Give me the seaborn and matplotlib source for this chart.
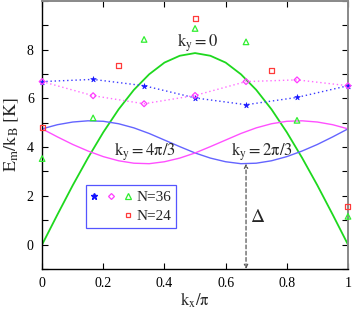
import numpy as np
import pandas as pd
import matplotlib
matplotlib.use("Agg")
import matplotlib.pyplot as plt
import seaborn as sns
from matplotlib.legend_handler import HandlerTuple
from matplotlib.lines import Line2D
from matplotlib.ticker import MultipleLocator

# ---- data ----
kx_curve = [0.0, 0.05, 0.1, 0.15, 0.2, 0.25, 0.3, 0.35, 0.4, 0.45, 0.5,
            0.55, 0.6, 0.65, 0.7, 0.75, 0.8, 0.85, 0.9, 0.95, 1.0]
E_ky0 = [0.0, 1.23, 2.43, 3.56, 4.61, 5.55, 6.35, 6.99, 7.47, 7.75, 7.86,
         7.75, 7.47, 6.99, 6.35, 5.55, 4.61, 3.56, 2.43, 1.23, 0.0]
E_ky4 = [4.75, 4.92, 5.03, 5.08, 5.06, 4.96, 4.79, 4.56, 4.29, 4.02, 3.76,
         3.55, 3.40, 3.32, 3.34, 3.44, 3.61, 3.84, 4.11, 4.42, 4.75]
E_ky2 = [4.75, 4.42, 4.11, 3.84, 3.61, 3.44, 3.34, 3.32, 3.40, 3.55, 3.76,
         4.02, 4.29, 4.56, 4.79, 4.96, 5.06, 5.08, 5.03, 4.92, 4.75]

kx_36 = [0.0, 1/6, 1/3, 0.5, 2/3, 5/6, 1.0]
E36_star = [6.69, 6.78, 6.52, 6.02, 5.74, 6.04, 6.52]
E36_diam = [6.69, 6.11, 5.78, 6.12, 6.69, 6.76, 6.52]
E36_tri = [3.53, 5.20, 8.42, 8.87, 8.32, 5.10, 1.16]

kx_24 = [0.0, 0.25, 0.5, 0.75, 1.0]
E24_sq = [4.79, 7.34, 9.27, 7.13, 1.57]

gap_kx = 2/3
gap_E = 3.32

xticks = [0, 0.2, 0.4, 0.6, 0.8, 1]
xticklabels = ["0", "0.2", "0.4", "0.6", "0.8", "1"]
yticks = [0, 2, 4, 6, 8]

# ---- style ----
sns.set_style("ticks")
plt.rcParams['font.family'] = ['Liberation Serif', 'DejaVu Serif']
plt.rcParams['mathtext.fontset'] = 'stix'

c_green = '#1ed81e'
c_blue_line = '#6464ff'
c_pink_line = '#ff50ff'
c_star = '#1414ff'
c_diam = '#ff3cff'
c_tri = '#30ee30'
c_sq = '#ff3a3a'

fig = plt.figure(figsize=(3.54, 3.12), dpi=100)
ax = fig.add_axes([0.119, 0.138, 0.864, 0.859])

curves = pd.DataFrame({'kx': kx_curve, 'g': E_ky0, 'b': E_ky4, 'p': E_ky2})
sns.lineplot(data=curves, x='kx', y='g', ax=ax, color=c_green, lw=1.3, sort=False)
sns.lineplot(data=curves, x='kx', y='b', ax=ax, color=c_blue_line, lw=1.0, sort=False)
sns.lineplot(data=curves, x='kx', y='p', ax=ax, color=c_pink_line, lw=1.0, sort=False)

d36 = pd.DataFrame({'kx': kx_36, 's': E36_star, 'd': E36_diam, 't': E36_tri})
sns.lineplot(data=d36, x='kx', y='s', ax=ax, color='#3a3aff', lw=1.0,
             linestyle=(0, (1, 2)), sort=False)
sns.lineplot(data=d36, x='kx', y='d', ax=ax, color='#ff6cff', lw=1.0,
             linestyle=(0, (1, 2)), sort=False)
sns.scatterplot(data=d36, x='kx', y='s', ax=ax, marker='*', s=18,
                color=c_star, edgecolor=c_star, linewidth=0.4, zorder=5,
                clip_on=False)
sns.scatterplot(data=d36, x='kx', y='d', ax=ax, marker='D', s=9,
                facecolor='none', edgecolor=c_diam, linewidth=0.9, zorder=5,
                clip_on=False)
sns.scatterplot(data=d36, x='kx', y='t', ax=ax, marker='^', s=16,
                facecolor='none', edgecolor=c_tri, linewidth=0.9, zorder=5,
                clip_on=False)
d24 = pd.DataFrame({'kx': kx_24, 'q': E24_sq})
sns.scatterplot(data=d24, x='kx', y='q', ax=ax, marker='s', s=13,
                facecolor='none', edgecolor=c_sq, linewidth=0.9, zorder=5,
                clip_on=False)

# gap arrow
ax.annotate('', xy=(gap_kx, gap_E), xytext=(gap_kx, -1.0),
            arrowprops=dict(arrowstyle='<->', linestyle=(0, (3, 2)),
                            color='#555555', lw=0.9, shrinkA=0, shrinkB=0,
                            mutation_scale=6))
ax.text(0.703, 1.1, r'$\Delta$', fontsize=14, ha='center', va='center')

ax.text(0.507, 8.3, r'$\mathrm{k_y = 0}$', fontsize=12, ha='center', va='center')
ax.text(0.335, 3.8, r'$\mathrm{k_y = 4\pi/3}$', fontsize=12, ha='center', va='center')
ax.text(0.717, 3.8, r'$\mathrm{k_y = 2\pi/3}$', fontsize=12, ha='center', va='center')

ax.set_xlim(0, 1)
ax.set_ylim(-1, 10)
ax.set_xticks(xticks)
ax.set_xticklabels(xticklabels)
ax.set_yticks(yticks)
ax.yaxis.set_minor_locator(MultipleLocator(1))
ax.tick_params(which='both', direction='in', top=True, right=True,
               length=4, width=0.8, labelsize=10, pad=6, colors='black')
ax.tick_params(which='minor', length=4)
ax.set_xlabel(r'$\mathrm{k_x/\pi}$', fontsize=12, labelpad=0)
ax.set_ylabel(r'$\mathrm{E_m/k_B\ [K]}$', fontsize=13, labelpad=4)

for s in ['left', 'bottom']:
    ax.spines[s].set_color('black')
    ax.spines[s].set_linewidth(1.0)
for s in ['top', 'right']:
    ax.spines[s].set_color('#888888')
    ax.spines[s].set_linewidth(1.4)

blank = Line2D([], [], linestyle='none', marker=None)
h_star = Line2D([], [], linestyle='none', marker='*', markersize=4.5, color=c_star)
h_diam = Line2D([], [], linestyle='none', marker='D', markersize=3,
                markerfacecolor='none', markeredgecolor=c_diam, markeredgewidth=0.9)
h_tri = Line2D([], [], linestyle='none', marker='^', markersize=4,
               markerfacecolor='none', markeredgecolor=c_tri, markeredgewidth=0.9)
h_sq = Line2D([], [], linestyle='none', marker='s', markersize=3.5,
              markerfacecolor='none', markeredgecolor=c_sq, markeredgewidth=0.9)
leg = ax.legend([(h_star, h_diam, h_tri), (blank, blank, h_sq)],
                ['N=36', 'N=24'],
                handler_map={tuple: HandlerTuple(ndivide=None, pad=0.8)},
                loc='upper left', bbox_to_anchor=(0.145, 0.313),
                handlelength=2.5, handletextpad=0.4, borderpad=0.35,
                labelspacing=0.35, fontsize=11, frameon=True, fancybox=False,
                borderaxespad=0)
leg.get_frame().set_edgecolor('#5555ff')
leg.get_frame().set_linewidth(0.9)
leg.get_frame().set_alpha(1)

fig.savefig('out.png', dpi=100)
